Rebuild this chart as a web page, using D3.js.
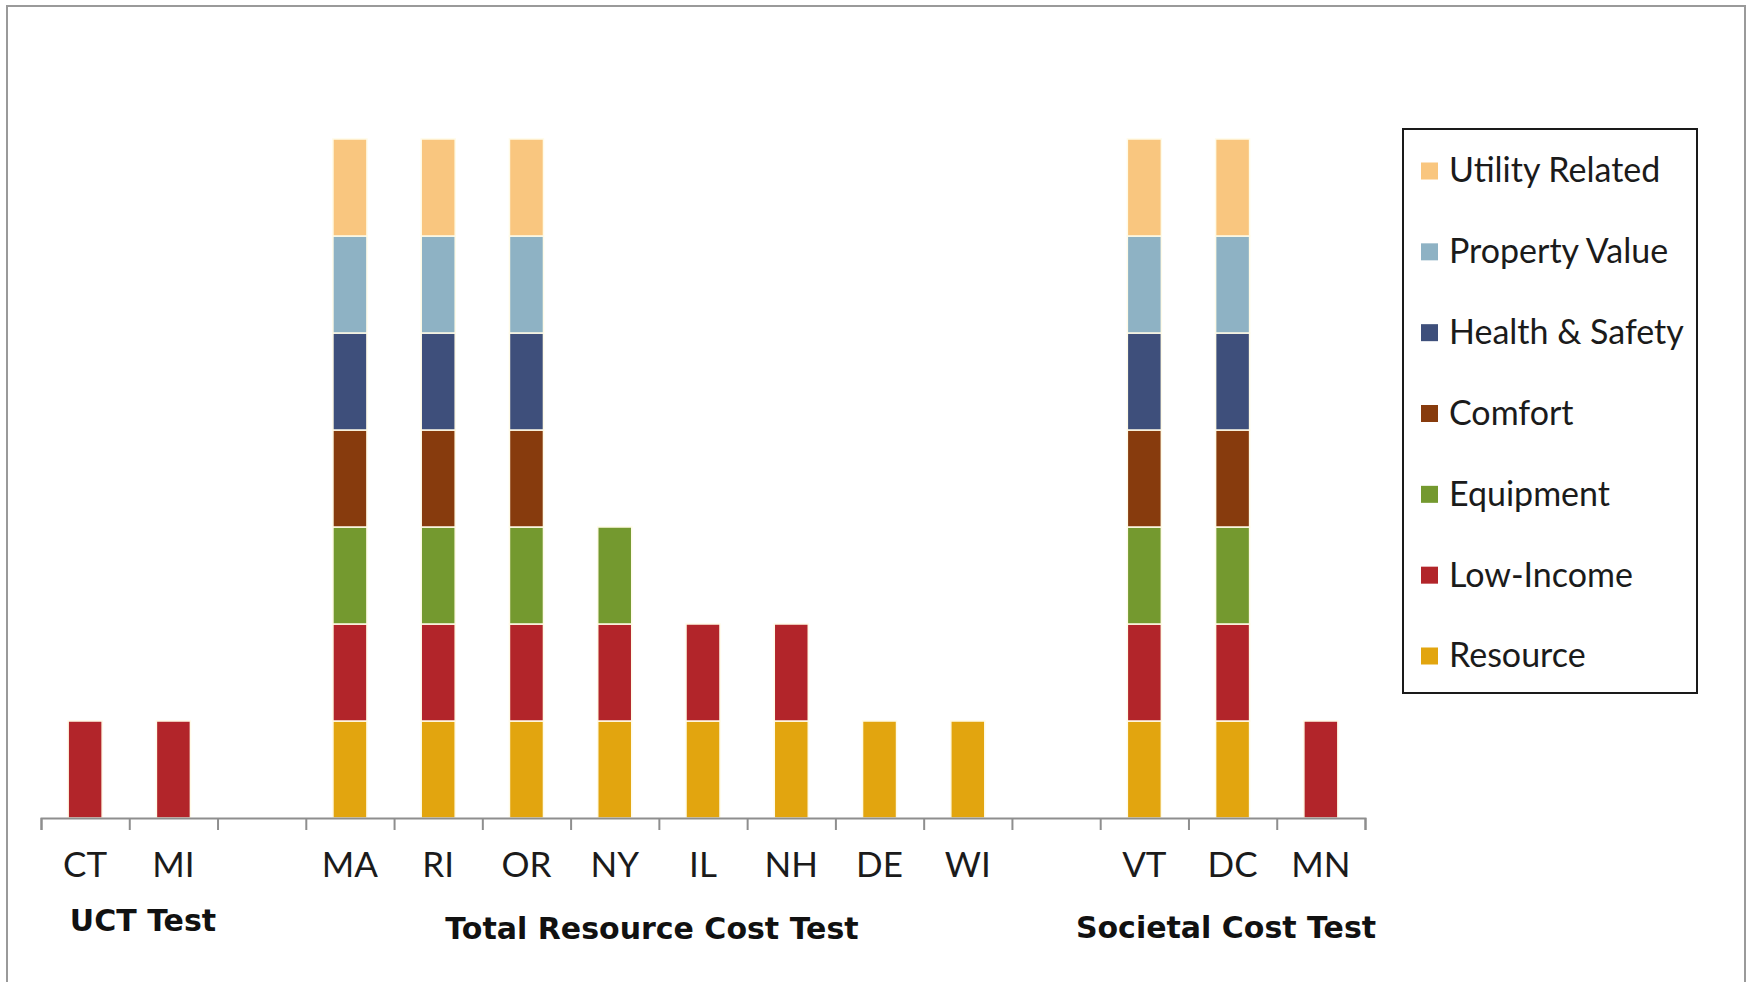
<!DOCTYPE html>
<html>
<head>
<meta charset="utf-8">
<script src="https://cdn.jsdelivr.net/npm/d3@7"></script>
<style>
  html, body { margin: 0; padding: 0; background: #fff; }
  svg { display: block; }
</style>
</head>
<body>
<svg id="chart" width="1748" height="982"></svg>
<script>
// Slots along the x axis; empty strings are spacer slots between test groups
const slots = ["CT", "MI", "", "MA", "RI", "OR", "NY", "IL", "NH", "DE", "WI", "", "VT", "DC", "MN"];

// Benefit categories, bottom of the stack first
const seriesNames = ["Resource", "Low-Income", "Equipment", "Comfort", "Health & Safety", "Property Value", "Utility Related"];
const seriesColors = ["#E2A50F", "#B2252A", "#74992F", "#873B0D", "#3E4F7B", "#8EB2C4", "#F9C67F"];

// 1 = benefit counted by that jurisdiction, 0 = not counted
const resource       = [0, 0, 0, 1, 1, 1, 1, 1, 1, 1, 1, 0, 1, 1, 0];
const lowIncome      = [1, 1, 0, 1, 1, 1, 1, 1, 1, 0, 0, 0, 1, 1, 1];
const equipment      = [0, 0, 0, 1, 1, 1, 1, 0, 0, 0, 0, 0, 1, 1, 0];
const comfort        = [0, 0, 0, 1, 1, 1, 0, 0, 0, 0, 0, 0, 1, 1, 0];
const healthSafety   = [0, 0, 0, 1, 1, 1, 0, 0, 0, 0, 0, 0, 1, 1, 0];
const propertyValue  = [0, 0, 0, 1, 1, 1, 0, 0, 0, 0, 0, 0, 1, 1, 0];
const utilityRelated = [0, 0, 0, 1, 1, 1, 0, 0, 0, 0, 0, 0, 1, 1, 0];

// Cost-test groups spanning slot ranges
const groupLabels = ["UCT Test", "Total Resource Cost Test", "Societal Cost Test"];

const seriesValues = [resource, lowIncome, equipment, comfort, healthSafety, propertyValue, utilityRelated];

const rows = slots.map((s, i) => {
  const r = { idx: i, label: s };
  seriesNames.forEach((n, k) => { r[n] = seriesValues[k][i]; });
  return r;
});

const svg = d3.select("#chart");

// Outer frame
svg.append("rect")
  .attr("x", 7).attr("y", 6)
  .attr("width", 1738).attr("height", 1000)
  .attr("fill", "none").attr("stroke", "#9a9a9a").attr("stroke-width", 2);

const x0 = 41, x1 = 1365, yBase = 818, yTop = 139;

const x = d3.scaleBand()
  .domain(rows.map(d => d.idx))
  .range([x0, x1])
  .paddingInner(0.615)
  .paddingOuter(0.3075);

const y = d3.scaleLinear().domain([0, 7]).range([yBase, yTop]);

const color = d3.scaleOrdinal().domain(seriesNames).range(seriesColors);

const stacked = d3.stack().keys(seriesNames)(rows);

const layers = svg.append("g").selectAll("g")
  .data(stacked)
  .join("g")
  .attr("fill", d => color(d.key));

layers.selectAll("rect")
  .data(d => d.filter(p => p[1] - p[0] > 0))
  .join("rect")
  .attr("x", p => x(p.data.idx))
  .attr("width", x.bandwidth())
  .attr("y", p => y(p[1]))
  .attr("height", p => y(p[0]) - y(p[1]))
  .attr("stroke", "#fffbe8")
  .attr("stroke-width", 1.5);

// Axis with ticks on the slot boundaries
const xb = d3.scaleLinear().domain([0, slots.length]).range([x0, x1]);
const axis = svg.append("g")
  .attr("transform", `translate(0,${yBase})`)
  .call(d3.axisBottom(xb).tickValues(d3.range(slots.length + 1)).tickSize(12).tickSizeOuter(12).tickFormat(""));
axis.selectAll("path, line").attr("stroke", "#8e8e8e").attr("stroke-width", 2);

// Slot labels
svg.append("g").selectAll("text")
  .data(rows.filter(d => d.label))
  .join("text")
  .attr("x", d => x(d.idx) + x.bandwidth() / 2)
  .attr("y", 877)
  .attr("text-anchor", "middle")
  .attr("font-family", "Lato, 'Open Sans', sans-serif")
  .attr("font-size", 35)
  .attr("fill", "#1b1b1b")
  .text(d => d.label);

// Group labels
const groupPos = [[143, 931], [652, 939], [1226, 938]];
svg.append("g").selectAll("text")
  .data(groupLabels)
  .join("text")
  .attr("x", (d, i) => groupPos[i][0])
  .attr("y", (d, i) => groupPos[i][1])
  .attr("text-anchor", "middle")
  .attr("font-family", "'DejaVu Sans', sans-serif")
  .attr("font-weight", "bold")
  .attr("font-size", 30)
  .attr("fill", "#111")
  .text(d => d);

// Legend, top entry is the top of the stack
const legend = svg.append("g");
legend.append("rect")
  .attr("x", 1403).attr("y", 129)
  .attr("width", 294).attr("height", 564)
  .attr("fill", "#fff").attr("stroke", "#1a1a1a").attr("stroke-width", 2);

const legendOrder = seriesNames.slice().reverse();
const ly = d3.scalePoint().domain(legendOrder).range([170.5, 655.5]);

const items = legend.selectAll("g.item")
  .data(legendOrder)
  .join("g")
  .attr("class", "item")
  .attr("transform", d => `translate(0,${ly(d)})`);

items.append("rect")
  .attr("x", 1421).attr("y", -8)
  .attr("width", 17).attr("height", 17)
  .attr("fill", d => color(d));

items.append("text")
  .attr("x", 1449).attr("y", 0)
  .attr("dy", "0.35em")
  .attr("font-family", "Lato, 'Open Sans', sans-serif")
  .attr("font-size", 34)
  .attr("fill", "#1b1b1b")
  .text(d => d);
</script>
</body>
</html>
